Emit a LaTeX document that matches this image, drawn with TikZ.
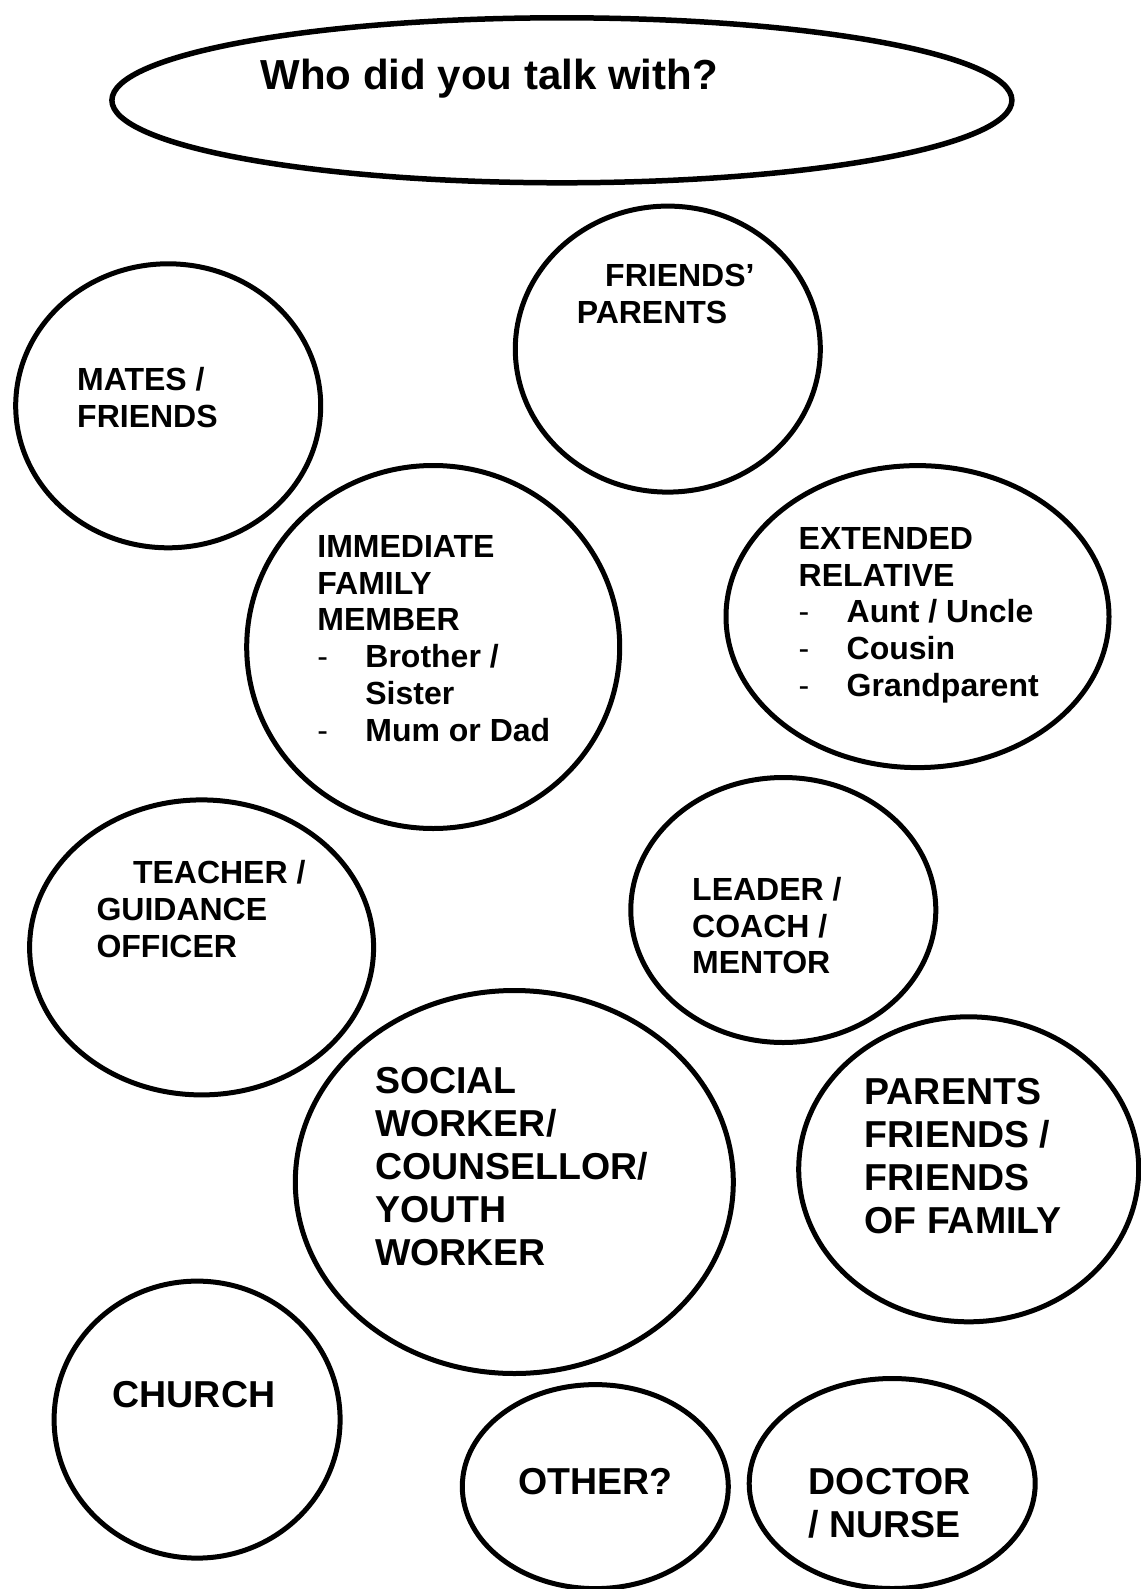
\documentclass[tikz,border=0pt]{standalone}
\usepackage{fontspec}
\setmainfont{Liberation Sans}
\usetikzlibrary{shapes.geometric}

\tikzset{
  bubble/.style={draw=black, line width=5pt, ellipse, inner sep=0pt},
  lbl/.style={anchor=north west, inner sep=0pt, align=left,
    font=\fontsize{32}{36.8}\selectfont\bfseries},
  biglbl/.style={lbl, font=\fontsize{37.5}{43}\selectfont\bfseries},
  titlelbl/.style={lbl, font=\fontsize{42}{48}\selectfont\bfseries},
}
% list item: thin dash then indented text
\newcommand{\dashitem}[1]{\makebox[48pt][l]{\mdseries -}#1}
\newcommand{\itemgap}{\hspace*{48pt}}

\begin{document}
\begin{tikzpicture}[x=1pt, y=-1pt]
  \fill[white] (0,0) rectangle (1140,1589);
  \useasboundingbox (0,0) rectangle (1140,1589);

  % heading
  \node[bubble, line width=5.5pt, minimum width=900pt, minimum height=165pt] (head) at (561.9,100.3) {};
  \node[titlelbl] (headT) at (260.4,59) {Who did you talk with?};

  % bubbles
  \node[bubble, minimum width=305pt, minimum height=284pt] (mates) at (168.2,405.8) {};
  \node[bubble, minimum width=305pt, minimum height=286pt] (fparents) at (667.8,349.1) {};
  \node[bubble, minimum width=373pt, minimum height=363pt] (immediate) at (433.2,647) {};
  \node[bubble, minimum width=383pt, minimum height=302pt] (extended) at (917.5,616.6) {};
  \node[bubble, minimum width=344pt, minimum height=295pt] (teacher) at (201.6,947.4) {};
  \node[bubble, minimum width=305pt, minimum height=265pt] (leader) at (783.3,910) {};
  \node[bubble, minimum width=438pt, minimum height=383pt] (social) at (514.3,1182) {};
  \node[bubble, minimum width=340pt, minimum height=305pt] (pfriends) at (968.7,1169.3) {};
  \node[bubble, minimum width=286pt, minimum height=277pt] (church) at (197.1,1419.6) {};
  \node[bubble, minimum width=266pt, minimum height=204pt] (other) at (595.3,1486.6) {};
  \node[bubble, minimum width=286pt, minimum height=210pt] (doctor) at (892.2,1483.5) {};

  % texts
  \node[lbl] (matesT) at (77,367) {MATES /\\FRIENDS};
  \node[lbl] (fparentsT) at (576.6,264) {\hspace*{28.4pt}FRIENDS’\\PARENTS};
  \node[lbl] (immediateT) at (317.2,535) {IMMEDIATE\\FAMILY\\MEMBER\\
    \dashitem{Brother /}\\\itemgap Sister\\\dashitem{Mum or Dad}};
  \node[lbl] (extendedT) at (798.5,527) {EXTENDED\\RELATIVE\\
    \dashitem{Aunt / Uncle}\\\dashitem{Cousin}\\\dashitem{Grandparent}};
  \node[lbl] (teacherT) at (96.3,860.5) {\hspace*{36.5pt}TEACHER /\\GUIDANCE\\OFFICER};
  \node[lbl] (leaderT) at (692,877) {LEADER /\\COACH /\\MENTOR};
  \node[biglbl] (socialT) at (375,1067.5) {SOCIAL\\WORKER/\\COUNSELLOR/\\YOUTH\\WORKER};
  \node[biglbl] (pfriendsT) at (864.4,1078.5) {PARENTS\\FRIENDS /\\FRIENDS\\OF FAMILY};
  \node[biglbl] (churchT) at (112.5,1381) {CHURCH};
  \node[biglbl] (otherT) at (517.8,1468.5) {OTHER?};
  \node[biglbl] (doctorT) at (808.6,1468.5) {DOCTOR\\/ NURSE};
\end{tikzpicture}
\end{document}
